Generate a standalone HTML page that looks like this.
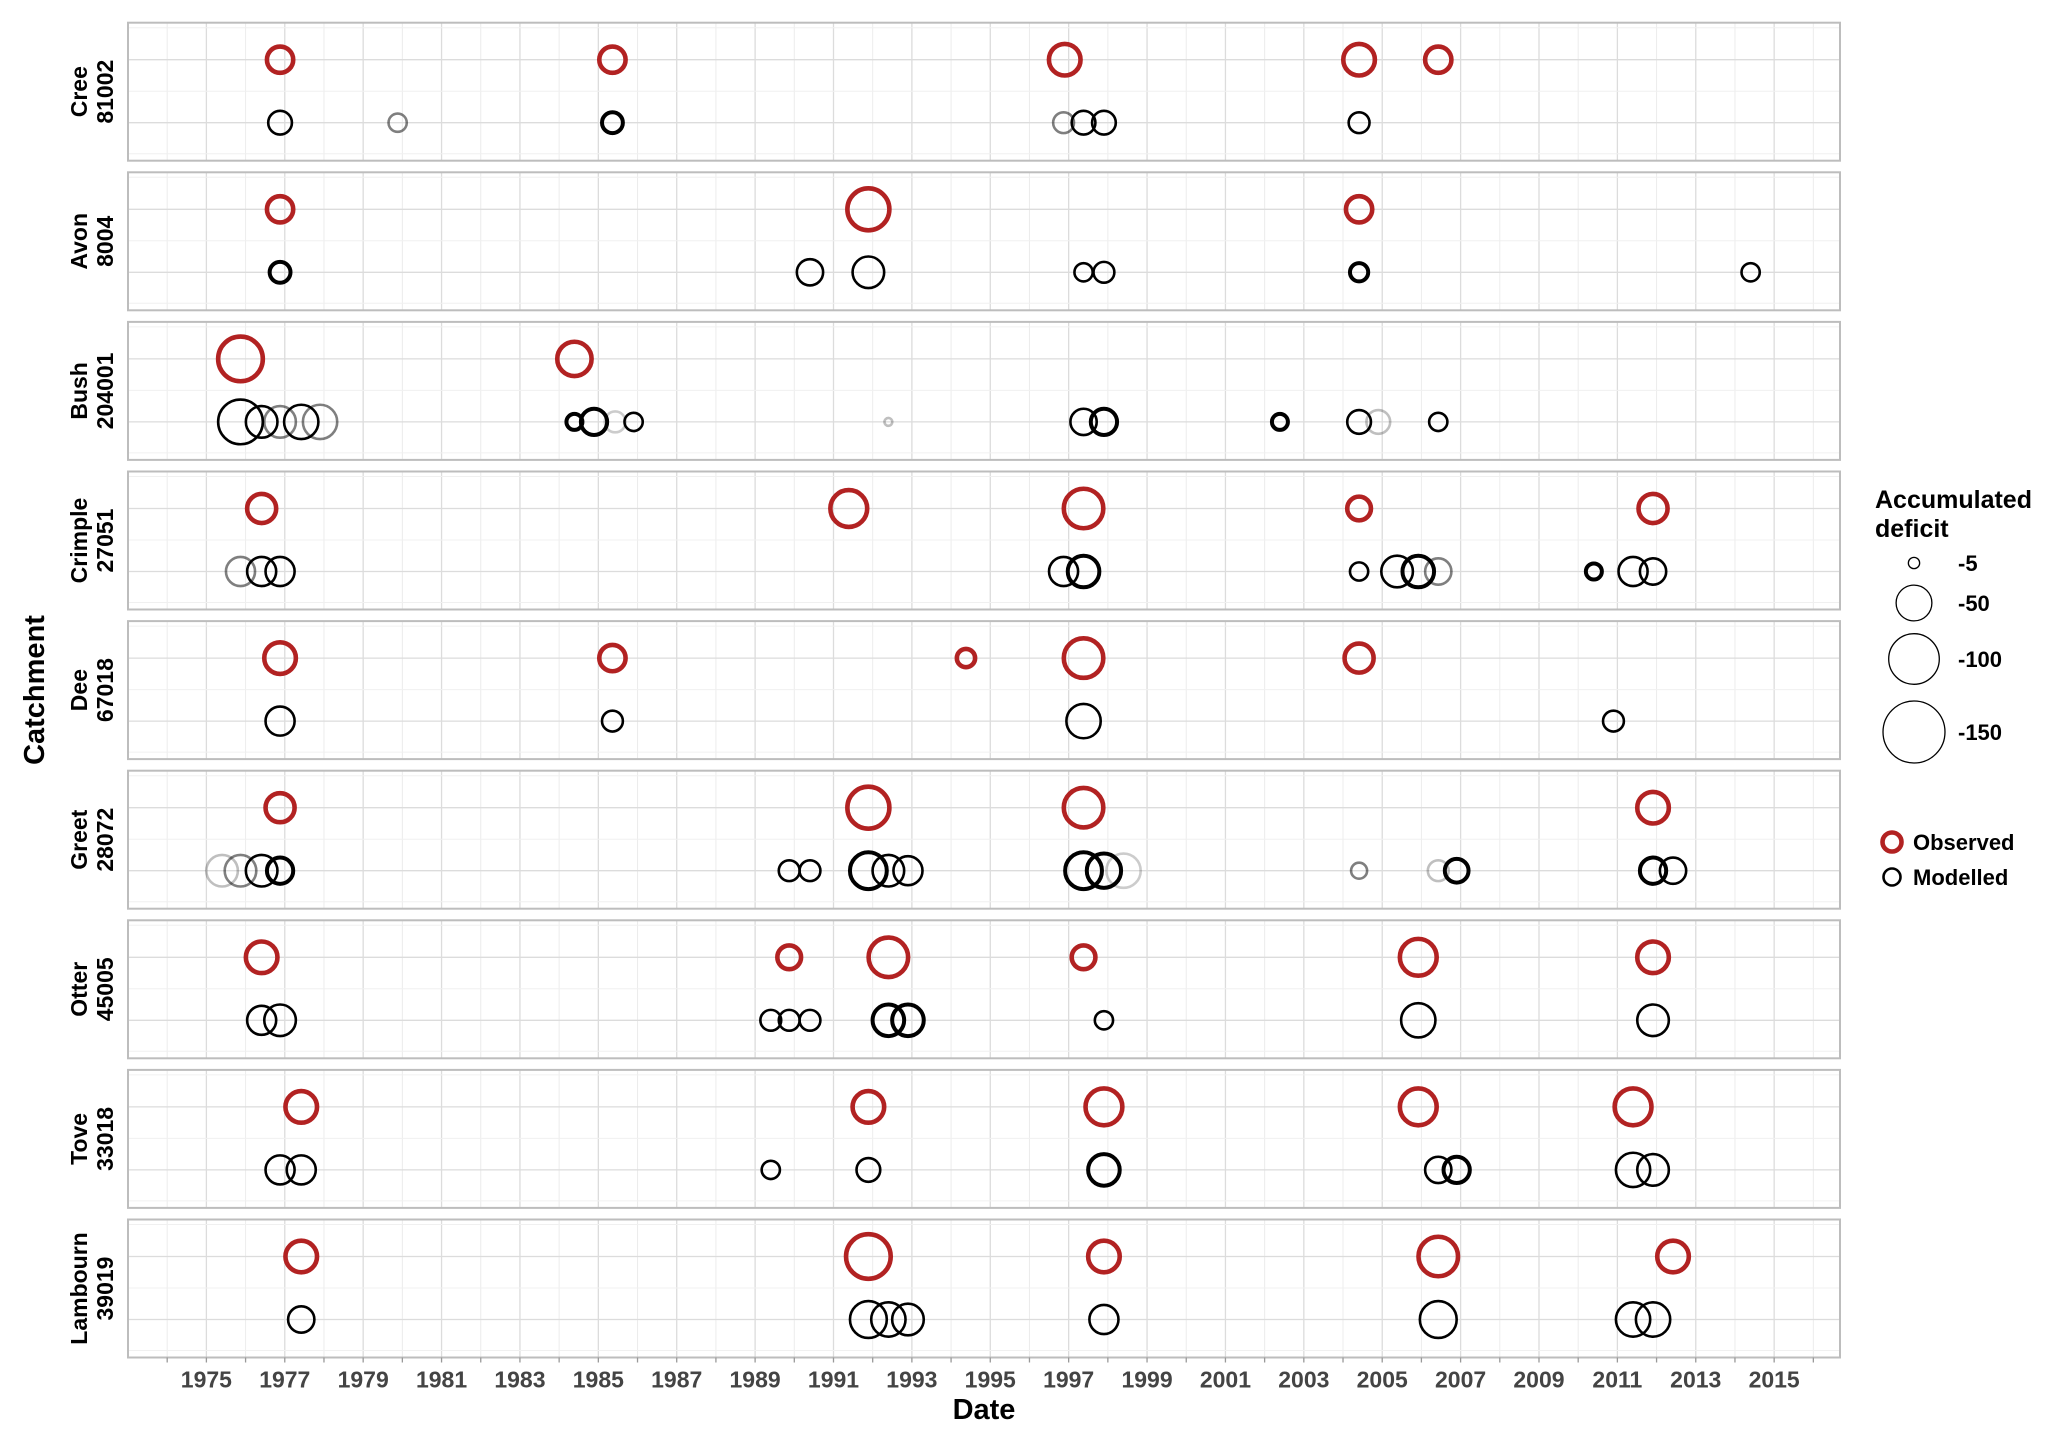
<!DOCTYPE html>
<html><head><meta charset="utf-8"><style>
body{margin:0;background:#fff;}
svg{display:block;font-family:"Liberation Sans",Arial,sans-serif;}
</style></head><body>
<svg id="chart" width="2067" height="1443" viewBox="0 0 2067 1443" xmlns="http://www.w3.org/2000/svg">
<g id="panels"></g>
<g id="xaxis"></g>
<text x="984" y="1419" font-size="29" font-weight="bold" text-anchor="middle">Date</text>
<text transform="translate(44,690) rotate(-90)" font-size="29" font-weight="bold" text-anchor="middle">Catchment</text>
<g id="legend">
<text x="1875" y="508" font-size="25" font-weight="bold">Accumulated</text>
<text x="1875" y="537" font-size="25" font-weight="bold">deficit</text>
</g>
</svg>
<script>
const catchNames = ["Cree","Avon","Bush","Crimple","Dee","Greet","Otter","Tove","Lambourn"];
const catchIds = ["81002","8004","204001","27051","67018","28072","45005","33018","39019"];
const obsYears = [
 [1976.88,1985.36,1996.9,2004.41,2006.43],
 [1976.88,1991.89,2004.41],
 [1975.87,1984.39],
 [1976.41,1991.39,1997.38,2004.41,2011.91],
 [1976.88,1985.36,1994.38,1997.38,2004.41],
 [1976.88,1991.89,1997.38,2011.91],
 [1976.41,1989.87,1992.4,1997.38,2005.92,2011.91],
 [1977.42,1991.89,1997.9,2005.92,2011.4],
 [1977.42,1991.89,1997.9,2006.43,2012.42]
];
const obsDeficit = [
 [27,27,39,39,27],
 [27,69,27],
 [78,46],
 [33,53,61,22,33],
 [39,27,13,61,33],
 [33,69,61,39],
 [39,22,61,22,53,39],
 [39,39,53,53,53],
 [39,78,39,61,39]
];
const modYears = [
 [1976.88,1979.88,1985.36,1996.87,1997.38,1997.9,2004.41],
 [1976.88,1990.4,1991.89,1997.38,1997.9,2004.41,2014.4],
 [1975.87,1976.41,1976.88,1977.42,1977.9,1984.39,1984.89,1985.43,1985.9,1992.4,1997.38,1997.9,2002.39,2004.41,2004.9,2006.43],
 [1975.87,1976.41,1976.88,1996.87,1997.38,2004.41,2005.38,2005.92,2006.43,2010.4,2011.4,2011.91],
 [1976.88,1985.36,1997.38,2010.9],
 [1975.4,1975.87,1976.41,1976.88,1989.87,1990.4,1991.89,1992.4,1992.9,1997.38,1997.9,1998.4,2004.41,2006.43,2006.9,2011.91,2012.42],
 [1976.41,1976.88,1989.4,1989.87,1990.4,1992.4,1992.9,1997.9,2005.92,2011.91],
 [1976.88,1977.42,1989.4,1991.89,1997.9,2006.43,2006.9,2011.4,2011.91],
 [1977.42,1991.89,1992.4,1992.9,1997.9,2006.43,2011.4,2011.91]
];
const modDeficit = [
 [22,13,17,17,22,22,17],
 [17,27,39,13,17,13,13],
 [78,39,39,46,46,10,27,17,13,2.4,27,27,10,22,22,13],
 [33,33,33,33,39,13,39,39,27,10,33,27],
 [33,17,46,17],
 [39,39,39,27,17,17,53,39,33,53,46,46,10,17,22,27,27],
 [33,39,17,17,17,39,39,13,46,39],
 [33,33,13,22,39,27,27,46,39],
 [27,53,46,39,33,53,46,46]
];
const modAlpha = [
 [1,0.5,1,0.5,1,1,1],
 [1,1,1,1,1,1,1],
 [1,1,0.5,1,0.5,1,1,0.2,1,0.25,1,1,1,1,0.25,1],
 [0.5,1,1,1,1,1,1,1,0.5,1,1,1],
 [1,1,1,1],
 [0.25,0.5,1,1,1,1,1,1,1,1,1,0.2,0.5,0.25,1,1,1],
 [1,1,1,1,1,1,1,1,1,1],
 [1,1,1,1,1,1,1,1,1],
 [1,1,1,1,1,1,1,1]
];
const modThick = [
 [0,0,1,0,0,0,0],
 [1,0,0,0,0,1,0],
 [0,0,0,0,0,1,1,0,0,0,0,1,1,0,0,0],
 [0,0,0,0,1,0,0,1,0,1,0,0],
 [0,0,0,0],
 [0,0,0,1,0,0,1,0,0,1,1,0,0,0,1,1,0],
 [0,0,0,0,0,1,1,0,0,0],
 [0,0,0,0,1,0,1,0,0],
 [0,0,0,0,0,0,0,0]
];
const tickYears = [1975,1977,1979,1981,1983,1985,1987,1989,1991,1993,1995,1997,1999,2001,2003,2005,2007,2009,2011,2013,2015];
const legendValues = [5,50,100,150];
const legendLabels = ["-5","-50","-100","-150"];

const NS="http://www.w3.org/2000/svg";
const L=128,R=1840,Y0=1973.0,Y1=2016.68;
function xs(y){return L+(y-Y0)/(Y1-Y0)*(R-L);}
function rs(v){return 2.53*Math.sqrt(v);}
function mk(tag,attrs,parent){const e=document.createElementNS(NS,tag);for(const k in attrs)e.setAttribute(k,attrs[k]);parent.appendChild(e);return e;}
const panels=document.getElementById('panels');
const PT=22.7,PH=138,STEP=149.6;
for(let i=0;i<catchNames.length;i++){
  const top=PT+i*STEP;
  const g=mk('g',{},panels);
  
  
  mk('rect',{x:L,y:top,width:R-L,height:PH,fill:'#fff'},g);
  for(let y=1974;y<=2016;y++){
    mk('line',{x1:xs(y),x2:xs(y),y1:top,y2:top+PH,stroke:y%2?'#dcdcdc':'#ececec','stroke-width':y%2?1.3:1},g);
  }
  const yObs=top+37,yMod=top+100;
  [top+5,top+68.5,top+131].forEach(yy=>mk('line',{x1:L,x2:R,y1:yy,y2:yy,stroke:'#f0f0f0','stroke-width':1},g));
  [yObs,yMod].forEach(yy=>mk('line',{x1:L,x2:R,y1:yy,y2:yy,stroke:'#dcdcdc','stroke-width':1.3},g));
  mk('rect',{x:L,y:top,width:R-L,height:PH,fill:'none',stroke:'#bdbdbd','stroke-width':2},g);
  const lab=mk('text',{transform:`translate(${L-41},${top+PH/2}) rotate(-90)`,'font-size':23,'font-weight':'bold','text-anchor':'middle'},g);
  
  
  mk('tspan',{x:0,dy:0},lab).textContent=catchNames[i];
  mk('tspan',{x:0,dy:26},lab).textContent=catchIds[i];
  for(let j=0;j<modYears[i].length;j++){
    const c=mk('circle',{cx:xs(modYears[i][j]),cy:yMod,r:rs(modDeficit[i][j]),fill:'none',stroke:'#000','stroke-opacity':modAlpha[i][j],'stroke-width':modThick[i][j]?4:2.6},g);
    
    
  }
  for(let j=0;j<obsYears[i].length;j++){
    const c=mk('circle',{cx:xs(obsYears[i][j]),cy:yObs,r:rs(obsDeficit[i][j]),fill:'none',stroke:'#b22222','stroke-width':4.6},g);
    
    
  }
}
const xa=document.getElementById('xaxis');
const bottom=PT+8*STEP+PH;
for(let y=1974;y<=2016;y++) mk('line',{x1:xs(y),x2:xs(y),y1:bottom,y2:bottom+5,stroke:'#999','stroke-width':1.3},xa);
tickYears.forEach(y=>{
  const t=mk('text',{x:xs(y),y:bottom+30,'font-size':23,'font-weight':'bold',fill:'#444','text-anchor':'middle','font-family':'"Liberation Sans Narrow","Liberation Sans",sans-serif'},xa);
  
  
  t.textContent=y;
});
const lg=document.getElementById('legend');
const legY=[563,603,659,732];
legendValues.forEach((v,k)=>{
  const c=mk('circle',{cx:1914,cy:legY[k],r:rs(v),fill:'none',stroke:'#000','stroke-width':1.3},lg);
  
  
  const t=mk('text',{x:1958,y:legY[k]+8,'font-size':22,'font-weight':'bold'},lg);
  
  
  t.textContent=legendLabels[k];
});
const o=mk('circle',{cx:1892,cy:842,r:9.5,fill:'none',stroke:'#b22222','stroke-width':4.6},lg);


const ot=mk('text',{x:1913,y:850,'font-size':22,'font-weight':'bold'},lg);


ot.textContent='Observed';
const m=mk('circle',{cx:1892,cy:877,r:8.5,fill:'none',stroke:'#000','stroke-width':2.6},lg);


const mt=mk('text',{x:1913,y:885,'font-size':22,'font-weight':'bold'},lg);


mt.textContent='Modelled';
</script>
</body></html>
